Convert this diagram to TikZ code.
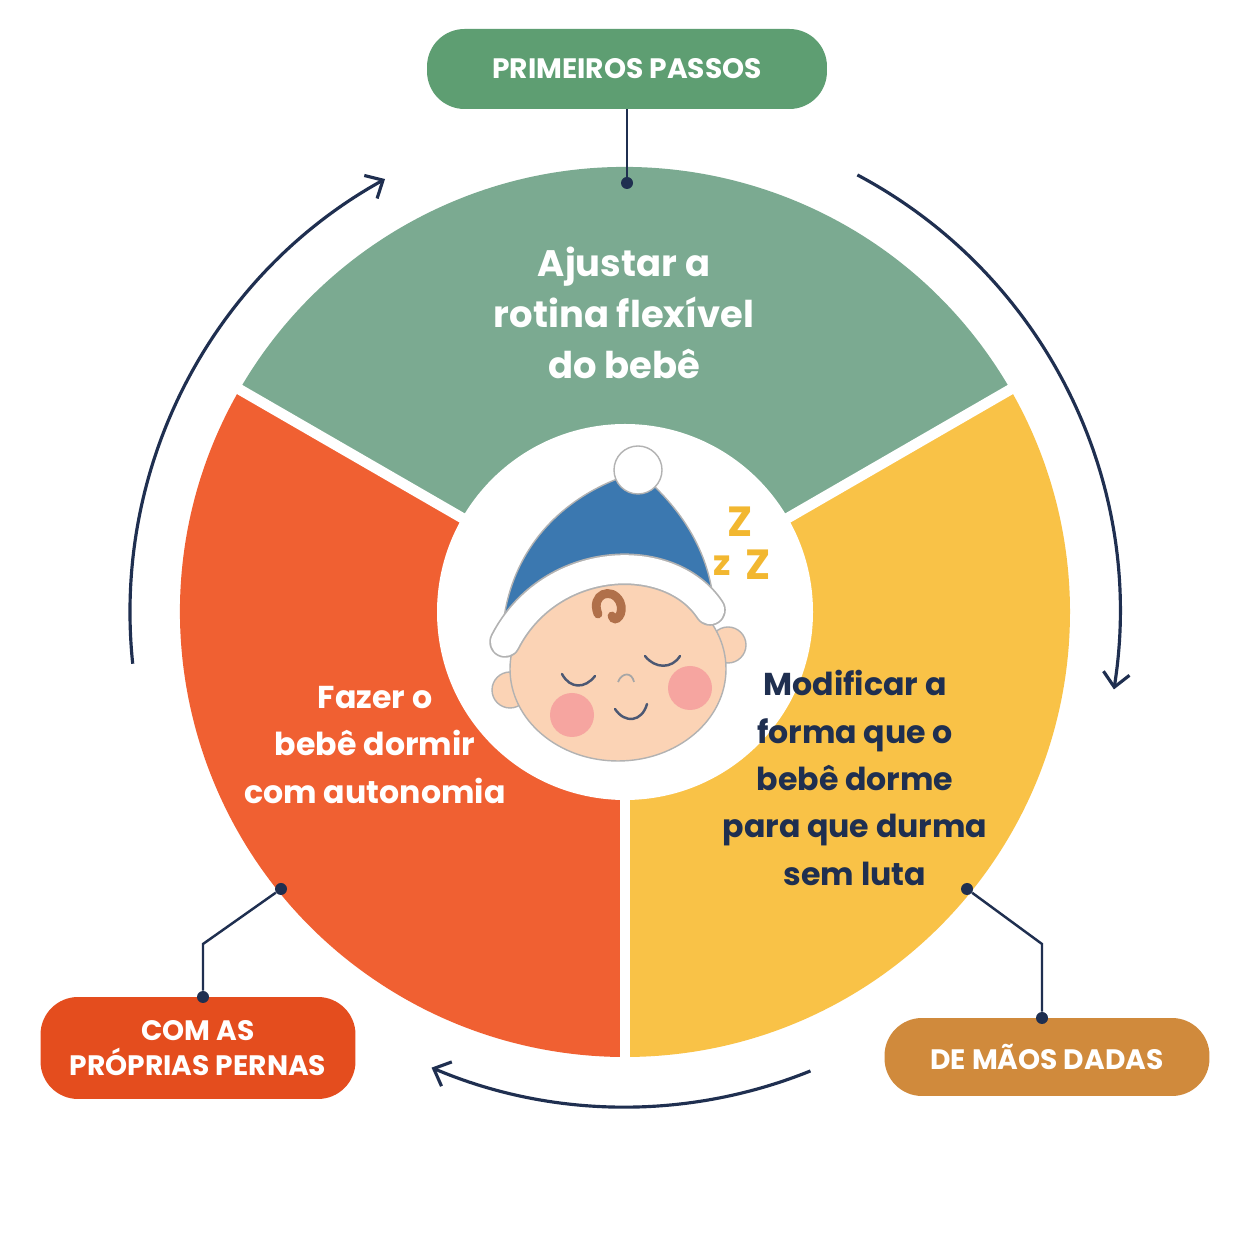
\documentclass[tikz,border=0pt]{standalone}
\usepackage{fontspec}
\setmainfont{Poppins}
\usetikzlibrary{arrows.meta,calc}
\definecolor{gsec}{HTML}{7BAA91}
\definecolor{rsec}{HTML}{F06032}
\definecolor{ysec}{HTML}{F9C247}
\definecolor{gbox}{HTML}{5E9E72}
\definecolor{rbox}{HTML}{E44D1E}
\definecolor{obox}{HTML}{D08A3C}
\definecolor{navy}{HTML}{1F2F50}
\definecolor{skin}{HTML}{FBD3B5}
\definecolor{hat}{HTML}{3B78B0}
\definecolor{cheek}{HTML}{F6A5A0}
\definecolor{curl}{HTML}{B0704A}
\definecolor{zz}{HTML}{F2B730}
\begin{document}
\begin{tikzpicture}[x=0.02cm,y=0.02cm,
  lbl/.style={rounded corners=0.75cm, text=white, font=\bfseries\fontsize{16}{20}\selectfont, align=center, inner sep=0},
  sec/.style={font=\bfseries\fontsize{21}{29}\selectfont, align=center},
  cyc/.style={navy, line width=1.8pt, -{Straight Barb[length=8pt,width=15pt]}},
  con/.style={navy, line width=1.4pt},
  dot/.style={circle, fill=navy, inner sep=0, minimum size=0.24cm}]
\useasboundingbox (0,0) rectangle (1254,1254);
\fill[white] (0,0) rectangle (1254,1254);
\coordinate (c) at (625,642);
\fill[gsec] (c) -- ++(30:445) arc (30:150:445) -- cycle;
\fill[rsec] (c) -- ++(150:445) arc (150:270:445) -- cycle;
\fill[ysec] (c) -- ++(270:445) arc (270:390:445) -- cycle;
\foreach \a in {30,150,270} \draw[white, line width=6pt] (c) -- ++(\a:450);
\fill[white] (c) circle (188);
% texts
\node[sec, text=white] (t1) at (624,941) {Ajustar a\\rotina flexível\\do bebê};
\node[sec, text=white, font=\bfseries\fontsize{18}{27}\selectfont] (t2) at (375,509) {Fazer o\\bebê dormir\\com autonomia};
\node[sec, text=navy, font=\bfseries\fontsize{18}{27}\selectfont] (t3) at (855,476) {Modificar a\\forma que o\\bebê dorme\\para que durma\\sem luta};
% label boxes
\node[lbl, fill=gbox, minimum width=8cm, minimum height=1.6cm] (b1) at (627,1185) {PRIMEIROS PASSOS};
\node[lbl, fill=rbox, minimum width=6.3cm, minimum height=2.04cm] (b2) at (198,206) {COM AS\\PRÓPRIAS PERNAS};
\node[lbl, fill=obox, minimum width=6.5cm, minimum height=1.56cm] (b3) at (1047,197) {DE MÃOS DADAS};
% connectors
\node[dot] (d1) at (627,1071) {};
\node[dot] (d2) at (281,365) {};
\node[dot] (d3) at (967,365) {};
\node[dot] (e2) at (203,257) {};
\node[dot] (e3) at (1042,236) {};
\coordinate (k2) at (203,310);
\coordinate (k3) at (1042,310);
\draw[con] (b1.south) -- (d1);
\draw[con] (d2) -- (k2) -- (e2);
\draw[con] (d3) -- (k3) -- (e3);
% cycle arrows
\draw[cyc] ($(c)+(186:495)$) arc (186:119:495);
\draw[cyc] ($(c)+(62:495)$) arc (62:-9:495);
\draw[cyc] ($(c)+(-68:495)$) arc (-68:-113:495);
% baby
\fill[skin, draw=gray!60, line width=0.8pt] (510,564) circle (18);
\fill[skin, draw=gray!60, line width=0.8pt] (728,609) circle (18);
\fill[skin, draw=gray!60, line width=0.8pt] (618,585) ellipse (108 and 92);
\fill[hat, draw=gray!60, line width=0.8pt] (502,614) .. controls (505,700) and (560,760) .. (638,782) .. controls (690,740) and (712,690) .. (714,644) .. controls (660,690) and (560,680) .. cycle;
\draw[gray!60, line width=18pt, line cap=round] (505,612) .. controls (550,700) and (670,705) .. (710,644);
\draw[white, line width=16pt, line cap=round] (505,612) .. controls (550,700) and (670,705) .. (710,644);
\fill[white, draw=gray!60, line width=0.8pt] (638,784) circle (24);
\draw[curl, line width=5pt, line cap=round] (598,640) .. controls (590,660) and (612,668) .. (620,652) .. controls (625,640) and (615,630) .. (612,638);
\draw[navy!80, line width=1.4pt, line cap=round] (562,580) .. controls (570,565) and (585,565) .. (595,578);
\draw[navy!80, line width=1.4pt, line cap=round] (645,598) .. controls (655,585) and (672,585) .. (680,598);
\fill[cheek] (572,539) circle (22);
\fill[cheek] (690,566) circle (22);
\draw[gray!70, line width=1pt] (618,572) .. controls (622,582) and (632,582) .. (634,572);
\draw[navy!80, line width=1.4pt, line cap=round] (615,545) .. controls (625,530) and (642,532) .. (647,550);
\node[text=zz, font=\bfseries\fontsize{24}{24}\selectfont] (z1) at (740,732) {Z};
\node[text=zz, font=\bfseries\fontsize{20}{20}\selectfont] (z2) at (722,688) {z};
\node[text=zz, font=\bfseries\fontsize{24}{24}\selectfont] (z3) at (758,689) {Z};
\end{tikzpicture}
\end{document}
